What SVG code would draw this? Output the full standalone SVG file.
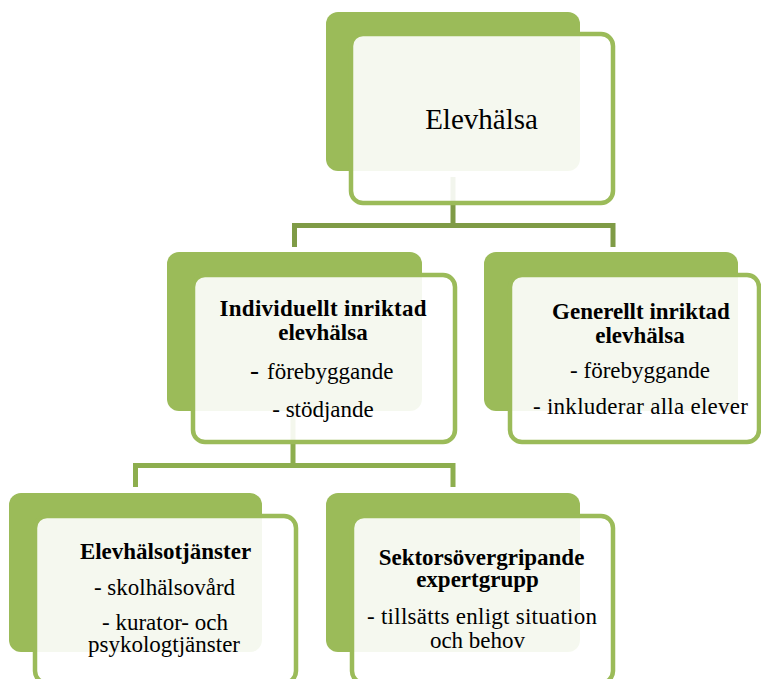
<svg xmlns="http://www.w3.org/2000/svg" width="761" height="679" viewBox="0 0 761 679">
<style>
.back{fill:#9BBB59;}
.front{fill:#FFFFFF;fill-opacity:0.9;stroke:#9BBB59;stroke-width:4.5;}
.conn1{fill:none;stroke:#7F9B46;stroke-width:5;}
.conn2{fill:none;stroke:#8DAE4E;stroke-width:5;}
text{font-family:"Liberation Serif","Times New Roman",serif;fill:#000;}
.t{font-size:23px;text-anchor:middle;}
.b{font-size:23px;font-weight:bold;text-anchor:middle;}
</style>
<rect width="761" height="679" fill="#FFFFFF"/>
<g id="connectors">
<path class="conn1" d="M453,177 V226 M294.5,247 V225.5 H613 V247"/>
<path class="conn2" d="M293,411 V465.5 M135.5,487 V465.5 H453 V487"/>
</g>
<g id="n-elevhalsa">
<rect class="back" x="326" y="12" width="254" height="159" rx="12"/>
<rect class="front" x="351" y="34" width="262" height="169" rx="12"/>
<text x="481.5" y="129" style="font-size:29px;text-anchor:middle">Elevhälsa</text>
</g>
<g id="n-individuellt">
<rect class="back" x="167" y="252" width="255" height="159" rx="12"/>
<rect class="front" x="193" y="275" width="262" height="167" rx="12"/>
<text class="b" x="323" y="316" textLength="207" lengthAdjust="spacing">Individuellt inriktad</text>
<text class="b" x="323" y="340">elevhälsa</text>
<text x="250" y="379" style="font-size:27px">-</text>
<text x="267" y="379" style="font-size:23px">förebyggande</text>
<text class="t" x="323" y="417">- stödjande</text>
</g>
<g id="n-generellt">
<rect class="back" x="484" y="252" width="254" height="159" rx="12"/>
<rect class="front" x="510" y="275" width="249" height="167" rx="12"/>
<text class="b" x="641" y="319">Generellt inriktad</text>
<text class="b" x="640" y="343">elevhälsa</text>
<text class="t" x="640" y="378">- förebyggande</text>
<text class="t" x="640.5" y="414" textLength="215" lengthAdjust="spacing">- inkluderar alla elever</text>
</g>
<g id="n-elevhalsotjanster">
<rect class="back" x="9" y="493" width="253" height="159" rx="12"/>
<rect class="front" x="35" y="516" width="261" height="167" rx="12"/>
<text class="b" x="165.5" y="559">Elevhälsotjänster</text>
<text class="t" x="164.5" y="595">- skolhälsovård</text>
<text class="t" x="165" y="630">- kurator- och</text>
<text class="t" x="164" y="652">psykologtjänster</text>
</g>
<g id="n-sektors">
<rect class="back" x="326" y="493" width="254" height="159" rx="12"/>
<rect class="front" x="352" y="516" width="261" height="167" rx="12"/>
<text class="b" x="481.5" y="565">Sektorsövergripande</text>
<text class="b" x="477.5" y="587">expertgrupp</text>
<text class="t" x="482" y="624" textLength="230" lengthAdjust="spacing">- tillsätts enligt situation</text>
<text class="t" x="477.5" y="648">och behov</text>
</g>
</svg>
